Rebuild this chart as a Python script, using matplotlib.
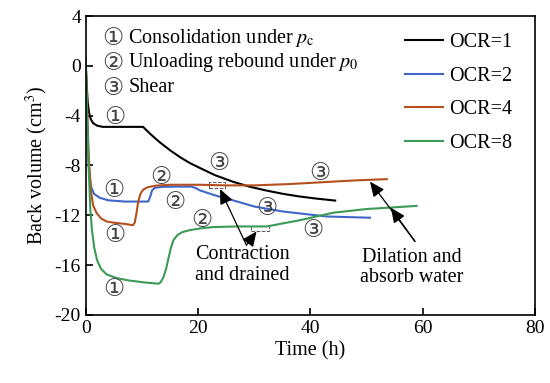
import matplotlib
matplotlib.use("Agg")
import matplotlib.pyplot as plt
from matplotlib.patches import Rectangle

plt.rcParams['font.family'] = ['Liberation Serif', 'DejaVu Sans', 'Noto Sans CJK SC']
plt.rcParams['mathtext.fontset'] = 'stix'

# OCR=1
t1 = [0, 0.15, 0.35, 0.6, 0.9, 1.3, 2, 3, 6, 10.2, 11, 12, 13.2, 15, 16.8, 18.5, 20.3, 23, 26.2,
      29.2, 32, 35.1, 38, 41, 44.4]
v1 = [0, -1.5, -3.0, -3.8, -4.3, -4.6, -4.8, -4.9, -4.9, -4.9, -5.26, -5.68, -6.15, -6.78, -7.34,
      -7.8, -8.2, -8.78, -9.31, -9.71, -10.0, -10.28, -10.49, -10.66, -10.82]
# OCR=2
t2 = [0, 0.2, 0.45, 0.7, 1.0, 1.5, 2.5, 4, 7, 11.1, 11.4, 11.8, 12.3, 13.5, 16, 18.8, 19.5, 20.3,
      23, 26.2, 30, 35.1, 42.9, 50.6]
v2 = [0, -4.0, -7.5, -9.0, -9.8, -10.3, -10.6, -10.8, -10.9, -10.9, -10.6, -10.0, -9.8, -9.72,
      -9.7, -9.7, -9.8, -10.0, -10.4, -10.8, -11.3, -11.7, -12.1, -12.2]
# OCR=4
t4 = [0, 0.2, 0.5, 0.9, 1.3, 1.9, 2.7, 3.7, 5, 7, 8.4, 8.7, 9.0, 9.3, 9.7, 10.2, 11, 12.5, 15,
      20, 25, 30, 36, 42, 48, 53.6]
v4 = [0, -3.0, -7.0, -10.0, -11.2, -11.8, -12.25, -12.5, -12.6, -12.7, -12.8, -12.6, -11.9,
      -11.0, -10.3, -9.95, -9.75, -9.62, -9.55, -9.55, -9.6, -9.6, -9.5, -9.35, -9.2, -9.1]
# OCR=8
t8 = [0, 0.2, 0.5, 0.8, 1.1, 1.5, 2, 2.7, 3.7, 5.5, 7.8, 10.5, 12.9, 13.3, 13.8, 14.3, 14.7,
      15.1, 15.6, 16.3, 17.2, 18.5, 20.5, 22.7, 26.9, 32.2, 38.1, 44, 50, 58.9]
v8 = [0.6, -3.0, -8.0, -11.5, -13.2, -14.6, -15.6, -16.3, -16.75, -17.05, -17.25, -17.4, -17.5,
      -17.4, -17.0, -16.3, -15.5, -14.7, -14.0, -13.6, -13.35, -13.2, -13.05, -12.95, -12.9,
      -12.9, -12.4, -11.8, -11.5, -11.25]

labels = ['OCR=1', 'OCR=2', 'OCR=4', 'OCR=8']
colors = ['black', '#3F66C9', '#B5501E', '#3C9A55']

# circled stage labels (text, t, v)
stage_marks = [
    ('①', 5.2, -4.1), ('③', 23.6, -7.8),
    ('①', 5.0, -10.0), ('②', 13.3, -8.9), ('②', 15.9, -10.9), ('③', 32.2, -11.4),
    ('①', 5.2, -13.6), ('③', 41.7, -8.6),
    ('②', 20.6, -12.4), ('①', 4.9, -17.9), ('③', 40.5, -13.2),
]

header_marks = ['①', '②', '③']
header_texts = ['Consolidation under $p_{\\mathrm{c}}$', 'Unloading rebound under $p_0$', 'Shear']
header_rows = [2.25, 0.25, -1.75]

fig = plt.figure(figsize=(5.5, 3.83), dpi=100)
ax = fig.add_axes([0.156, 0.178, 0.817, 0.78])

for t, v, lab, c in zip([t1, t2, t4, t8], [v1, v2, v4, v8], labels, colors):
    ax.plot(t, v, color=c, lw=1.5, label=lab)

for s, x, y in stage_marks:
    ax.text(x, y, s, fontsize=17, ha='center', va='center', color='#444444',
            family=['DejaVu Sans'])

for m, txt, y in zip(header_marks, header_texts, header_rows):
    ax.text(4.8, y, m, fontsize=17, ha='center', va='center', color='#444444',
            family=['DejaVu Sans'])
    ax.text(7.6, y, txt, fontsize=14.5, ha='left', va='center')

# dashed boxes
ax.add_patch(Rectangle((21.9, -9.85), 2.9, 0.5, fill=False, ls='--', lw=0.7, ec='#555555'))
ax.add_patch(Rectangle((29.5, -13.25), 3.2, 0.4, fill=False, ls='--', lw=0.7, ec='#555555'))

arrow = dict(arrowstyle='-|>,head_length=0.9,head_width=0.4', color='black', lw=0.9,
             shrinkA=0, shrinkB=0)
ax.annotate('', xy=(23.9, -9.9), xytext=(28.6, -14.4), arrowprops=arrow)
ax.annotate('', xy=(30.4, -13.3), xytext=(28.6, -14.4), arrowprops=arrow)
ax.text(27.8, -16.0, 'Contraction\nand drained', fontsize=14.5, ha='center', va='center',
        linespacing=1.1)

ax.annotate('', xy=(50.6, -9.3), xytext=(58.6, -14.1), arrowprops=arrow)
ax.annotate('', xy=(54.3, -11.4), xytext=(58.6, -14.1), arrowprops=arrow)
ax.text(58.1, -16.2, 'Dilation and\nabsorb water', fontsize=14.5, ha='center', va='center',
        linespacing=1.1)

ax.set_xlim(0, 80)
ax.set_ylim(-20, 4)
ax.set_xticks([0, 20, 40, 60, 80])
ax.set_yticks([4, 0, -4, -8, -12, -16, -20])
ax.set_yticklabels(['4', '0', '-4', '-8', '-12', '-16', '-20'])
ax.tick_params(direction='in', length=5, width=1.2, labelsize=14)
for sp in ax.spines.values():
    sp.set_linewidth(1.2)
ax.set_xlabel('Time (h)', fontsize=14.5, labelpad=3)
ax.set_ylabel('Back volume (cm$^3$)', fontsize=14.5, labelpad=3)

ax.legend(loc='upper right', bbox_to_anchor=(0.98, 0.99), frameon=False, fontsize=14.5,
          handlelength=1.9, handletextpad=0.3, labelspacing=0.72, borderaxespad=0.3)

fig.savefig('out.png', dpi=100)
